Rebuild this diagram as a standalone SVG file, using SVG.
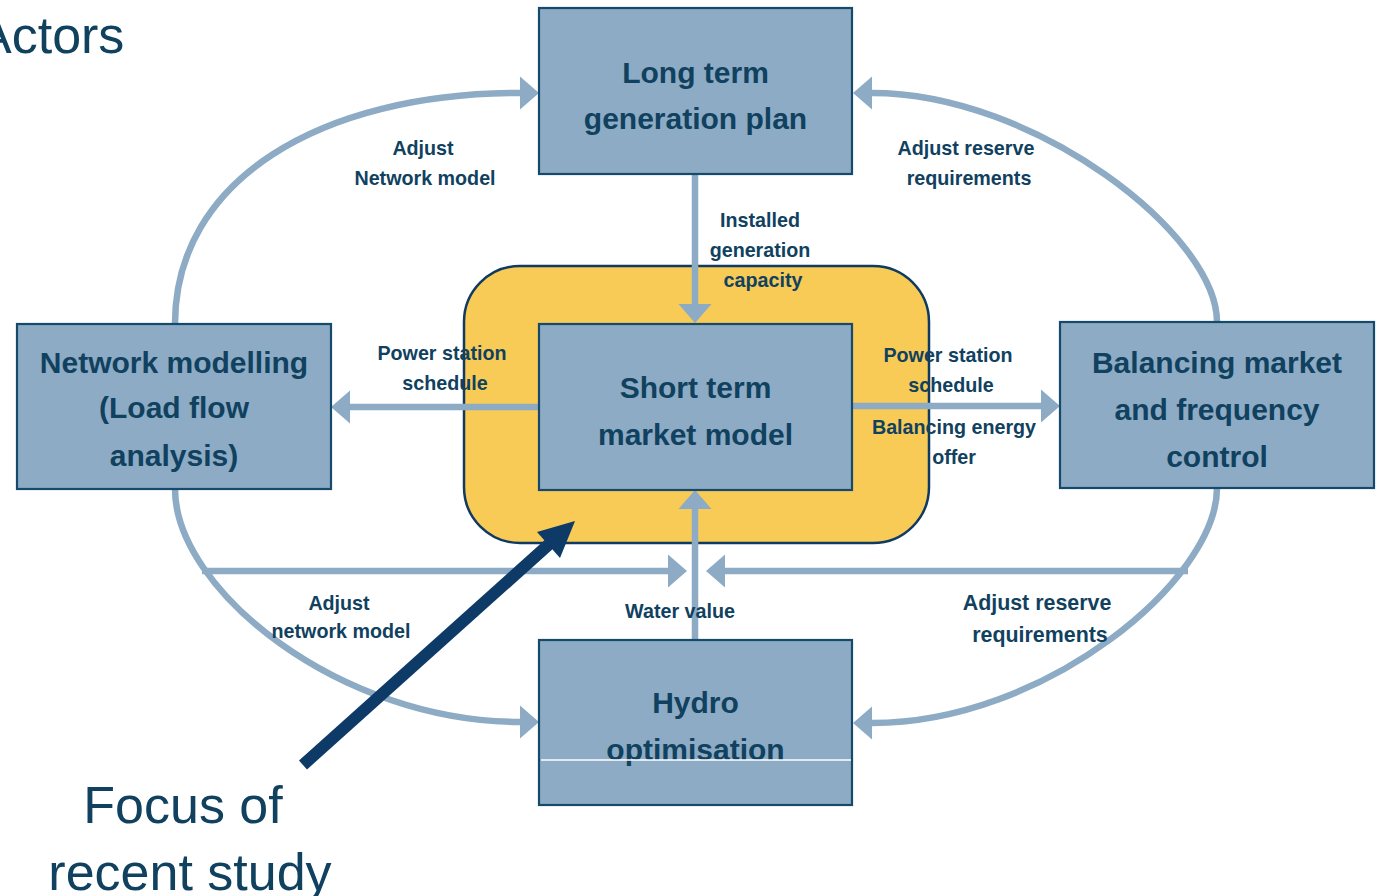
<svg xmlns="http://www.w3.org/2000/svg" width="1379" height="896" viewBox="0 0 1379 896">
  <style>
    .box { fill: #8dabc4; stroke: #154a6c; stroke-width: 2.2; }
    .focus { fill: #f8ca56; stroke: #0f3b62; stroke-width: 2.5; }
    .title { font-family: "Liberation Sans", Arial, sans-serif; font-weight: bold; font-size: 30px; fill: #10415f; text-anchor: middle; }
    .lbl { font-family: "Liberation Sans", Arial, sans-serif; font-weight: bold; font-size: 19.7px; fill: #10415f; text-anchor: middle; }
    .big { font-family: "Liberation Sans", Arial, sans-serif; font-size: 52px; fill: #10415f; }
    .flow { fill: none; stroke: #8dabc4; stroke-width: 6.5; marker-end: url(#head); }
  </style>
  <defs>
    <marker id="head" markerUnits="userSpaceOnUse" markerWidth="22" markerHeight="34" refX="0" refY="17" orient="auto" viewBox="0 0 22 34">
      <path d="M0,0.5 L19,17 L0,33.5 z" fill="#8dabc4"/>
    </marker>
  </defs>

  <!-- Page heading (runs off the left edge) -->
  <text class="big" x="-23" y="53">Actors</text>

  <!-- Highlighted area around the short term model -->
  <rect id="focus-area" class="focus" x="464" y="266" width="465" height="277" rx="56" ry="56"/>

  <g id="connectors">
    <!-- Loop arcs -->
    <path class="flow" d="M175,324 C175,180 320,93 520,93"/>
    <path class="flow" d="M1217,322 C1217,235 1035,93 872,93"/>
    <path class="flow" d="M175,489 C175,590 340,722 520,722"/>
    <path class="flow" d="M1217,488 C1217,580 1045,723 872,723"/>
    <!-- Horizontal feeds into the water value link -->
    <path class="flow" d="M202,571 L668,571"/>
    <path class="flow" d="M1188,571 L725,571"/>
    <!-- Straight links -->
    <path class="flow" d="M695,174 L695,304"/>
    <path class="flow" d="M695,640 L695,509"/>
    <path class="flow" d="M539,407 L350,407"/>
    <path class="flow" d="M852,406 L1041,406"/>
  </g>

  <g id="long-term">
    <rect class="box" x="539" y="8" width="313" height="166"/>
    <text class="title" x="695.5" y="83">Long term</text>
    <text class="title" x="695.5" y="129">generation plan</text>
  </g>

  <g id="network-modelling">
    <rect class="box" x="17" y="324" width="314" height="165"/>
    <text class="title" x="174" y="373">Network modelling</text>
    <text class="title" x="174" y="418">(Load flow</text>
    <text class="title" x="174" y="466">analysis)</text>
  </g>

  <g id="short-term">
    <rect class="box" x="539" y="324" width="313" height="166"/>
    <text class="title" x="695.5" y="398">Short term</text>
    <text class="title" x="695.5" y="445">market model</text>
  </g>

  <g id="balancing">
    <rect class="box" x="1060" y="322" width="314" height="166"/>
    <text class="title" x="1217" y="373">Balancing market</text>
    <text class="title" x="1217" y="420">and frequency</text>
    <text class="title" x="1217" y="467">control</text>
  </g>

  <g id="hydro">
    <rect class="box" x="539" y="640" width="313" height="165"/>
    <text class="title" x="695.5" y="713">Hydro</text>
    <text class="title" x="695.5" y="760">optimisation</text>
    <line x1="541" y1="760" x2="851" y2="760" stroke="#ffffff" stroke-width="1.5"/>
  </g>

  <g id="labels">
    <text class="lbl" x="423" y="155">Adjust</text>
    <text class="lbl" x="425" y="185">Network model</text>

    <text class="lbl" x="966" y="155">Adjust reserve</text>
    <text class="lbl" x="969" y="185">requirements</text>

    <text class="lbl" x="760" y="227">Installed</text>
    <text class="lbl" x="760" y="257">generation</text>
    <text class="lbl" x="763" y="287">capacity</text>

    <text class="lbl" x="442" y="360">Power station</text>
    <text class="lbl" x="445" y="390">schedule</text>

    <text class="lbl" x="948" y="362">Power station</text>
    <text class="lbl" x="951" y="392">schedule</text>
    <text class="lbl" x="954" y="434">Balancing energy</text>
    <text class="lbl" x="954" y="464">offer</text>

    <text class="lbl" x="680" y="618">Water value</text>

    <text class="lbl" x="339" y="610">Adjust</text>
    <text class="lbl" x="341" y="638">network model</text>

    <text class="lbl" x="1037" y="610" style="font-size:21.4px">Adjust reserve</text>
    <text class="lbl" x="1040" y="642" style="font-size:21.4px">requirements</text>
  </g>

  <!-- Pointer to the highlighted area -->
  <g id="focus-pointer">
    <line x1="303" y1="765" x2="556" y2="538" stroke="#0e3a68" stroke-width="12"/>
    <polygon points="575,521 537,532 560,558" fill="#0e3a68"/>
    <text class="big" x="183" y="823" text-anchor="middle">Focus of</text>
    <text class="big" x="190" y="890" text-anchor="middle">recent study</text>
  </g>
</svg>
